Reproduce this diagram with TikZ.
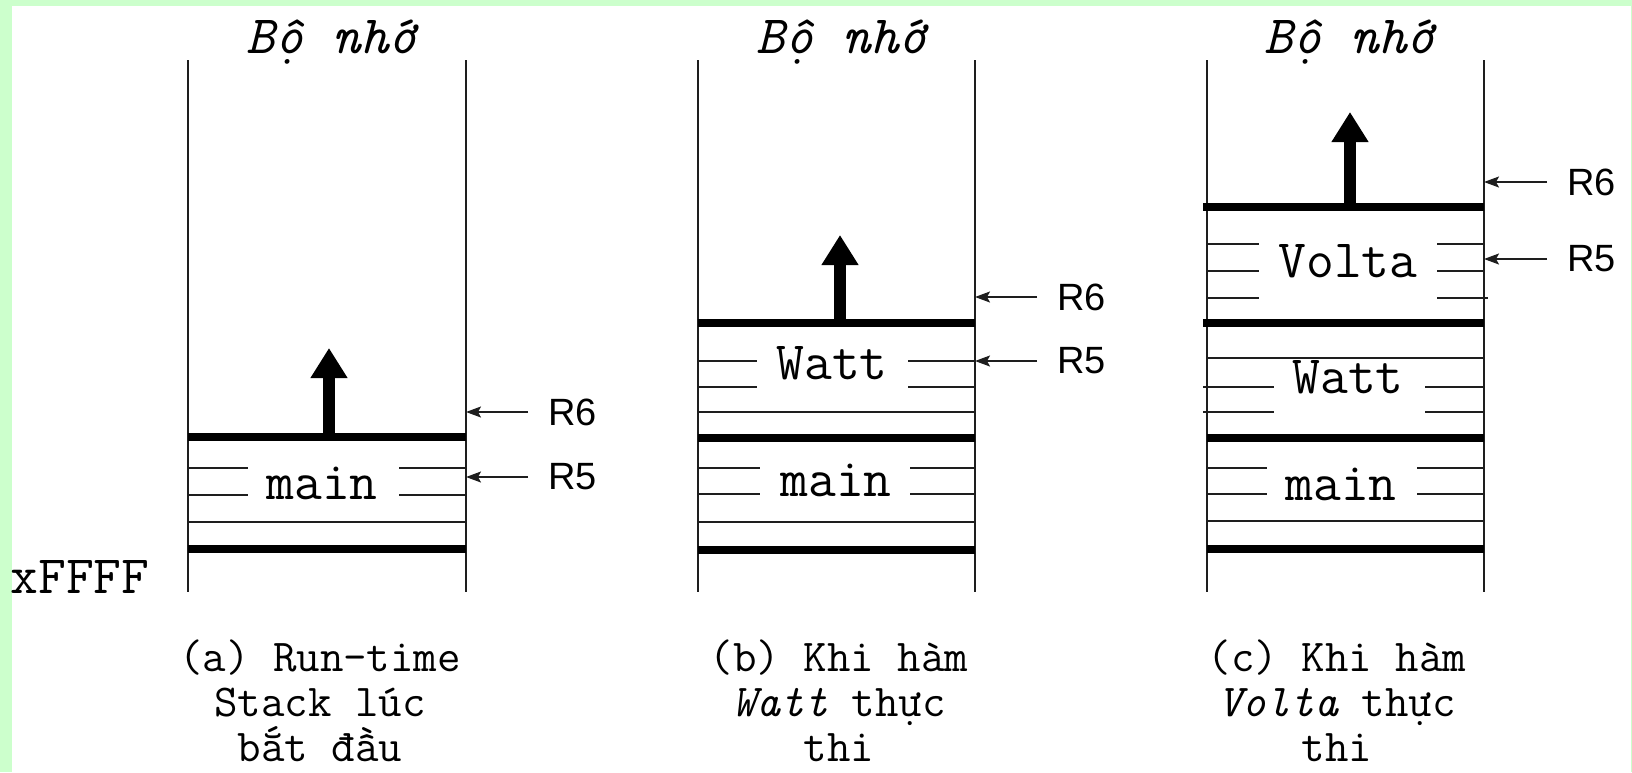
\documentclass[tikz,border=0pt]{standalone}
\usepackage{fontspec}
\usetikzlibrary{arrows.meta}
\newfontfamily\regfont{Liberation Sans}
\definecolor{BG}{RGB}{204,255,204}
\definecolor{DG}{RGB}{30,30,30}

\begin{document}
\begin{tikzpicture}[x=0.5pt, y=-0.5pt,
  wall/.style={draw=DG, line width=1pt},
  frame/.style={draw=black, line width=4pt},
  slot/.style={draw=DG, line width=0.9pt},
  push/.style={-{Triangle[length=15pt, width=17.5pt]}, line width=6pt},
  ptr/.style={-{Stealth[length=7.5pt, width=5.5pt, inset=1.5pt]}, draw=DG, line width=0.8pt},
  reg/.style={font=\regfont\fontsize{19}{22}\selectfont, anchor=west,
              inner xsep=10pt, inner ysep=0pt},
  fn/.style={font=\ttfamily\fontsize{27}{30}\selectfont, anchor=base, inner sep=0pt},
  head/.style={font=\ttfamily\itshape\fontsize{27}{30}\selectfont, anchor=base, inner sep=0pt},
  caption/.style={font=\ttfamily\fontsize{22.8}{22.5}\selectfont, align=center,
                  inner sep=0pt, text depth=0pt}
]
\useasboundingbox (0,0) rectangle (1632,772);
\fill[BG] (0,0) rectangle (1632,772);
\fill[white] (12,6) rectangle (1631,772);

\node[fn, anchor=base west] (top) at (10,593) {xFFFF};

% (a) Run-time Stack
\node[head] (memA) at (332,53) {Bộ nhớ};
\draw[wall] (188,60) -- (188,592) (466,60) -- (466,592);
\draw[frame] (188,437) -- (466,437) (188,549) -- (466,549);
\draw[slot] (188,522) -- (466,522);
\draw[slot] (188,468) -- (248,468) (399,468) -- (466,468)
            (188,495) -- (248,495) (399,495) -- (466,495);
\node[fn] (mainA) at (322,499) {main};
\draw[push] (329,437) -- (329,348);
\coordinate (a6) at (466,412);
\coordinate (a5) at (466,477);
\node[reg] (r6A) at (528,412) {R6};
\node[reg] (r5A) at (528,477) {R5};
\draw[ptr] (r6A.west) -- (a6);
\draw[ptr] (r5A.west) -- (a5);
\node[caption] (capA) at (320,701) {(a) Run-time\\Stack lúc\\bắt đầu};

% (b) Watt
\node[head] (memB) at (842,53) {Bộ nhớ};
\draw[wall] (698,60) -- (698,592) (975,60) -- (975,592);
\draw[frame] (698,323) -- (975,323) (698,438) -- (975,438) (698,550) -- (975,550);
\draw[slot] (698,412) -- (975,412) (698,522) -- (975,522);
\draw[slot] (698,361) -- (757,361) (908,361) -- (975,361)
            (698,387) -- (757,387) (908,387) -- (975,387);
\draw[slot] (698,468) -- (760,468) (910,468) -- (975,468)
            (698,494) -- (760,494) (910,494) -- (975,494);
\node[fn] (wattB) at (832,379) {Watt};
\node[fn] (mainB) at (836,496) {main};
\draw[push] (840,323) -- (840,235);
\coordinate (b6) at (975,297);
\coordinate (b5) at (975,361);
\node[reg] (r6B) at (1037,297) {R6};
\node[reg] (r5B) at (1037,361) {R5};
\draw[ptr] (r6B.west) -- (b6);
\draw[ptr] (r5B.west) -- (b5);
\node[caption] (capB) at (839,701) {(b) Khi hàm\\{\itshape Watt} thực\\thi};

% (c) Volta
\node[head] (memC) at (1350,53) {Bộ nhớ};
\draw[wall] (1207,60) -- (1207,592) (1484,60) -- (1484,592);
\draw[frame] (1203,207) -- (1484,207) (1203,323) -- (1484,323)
             (1207,438) -- (1484,438) (1207,549) -- (1484,549);
\draw[slot] (1207,358) -- (1484,358) (1207,521) -- (1484,521);
\draw[slot] (1207,244) -- (1259,244) (1437,244) -- (1484,244)
            (1207,271) -- (1259,271) (1437,271) -- (1484,271)
            (1207,298) -- (1259,298) (1437,298) -- (1488,298);
\draw[slot] (1203,387) -- (1274,387) (1425,387) -- (1484,387)
            (1203,412) -- (1274,412) (1425,412) -- (1484,412);
\draw[slot] (1207,468) -- (1267,468) (1417,468) -- (1484,468)
            (1207,494) -- (1267,494) (1417,494) -- (1484,494);
\node[fn] (voltaC) at (1348,277) {Volta};
\node[fn] (wattC) at (1348,393) {Watt};
\node[fn] (mainC) at (1341,500) {main};
\draw[push] (1350,207) -- (1350,112);
\coordinate (c6) at (1484,182);
\coordinate (c5) at (1484,259);
\node[reg] (r6C) at (1547,182) {R6};
\node[reg] (r5C) at (1547,259) {R5};
\draw[ptr] (r6C.west) -- (c6);
\draw[ptr] (r5C.west) -- (c5);
\node[caption] (capC) at (1337,701) {(c) Khi hàm\\{\itshape Volta} thực\\thi};
\end{tikzpicture}
\end{document}
